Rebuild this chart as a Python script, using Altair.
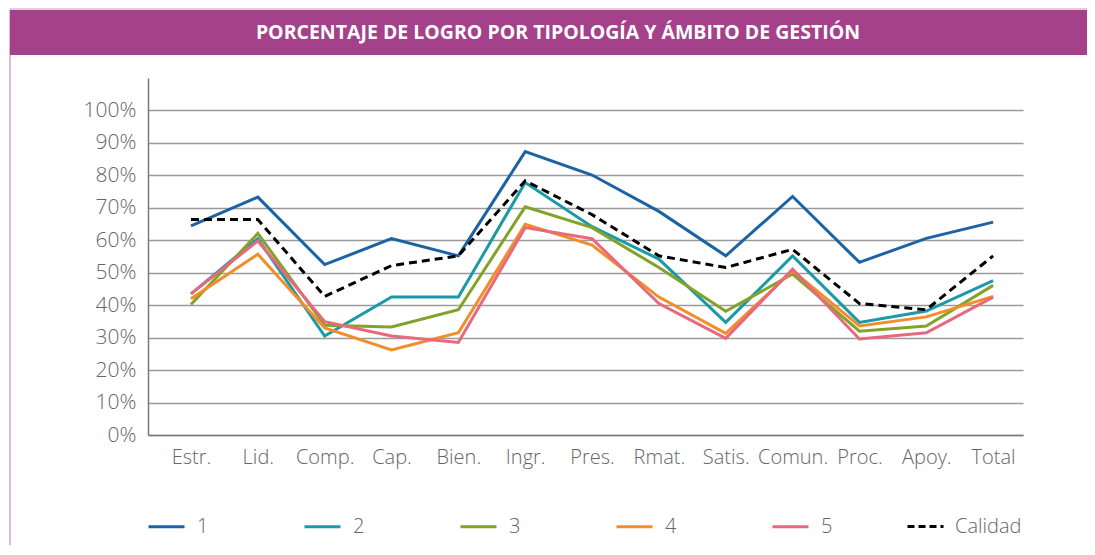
import altair as alt
import pandas as pd

categorias = ["Estr.", "Lid.", "Comp.", "Cap.", "Bien.", "Ingr.", "Pres.",
              "Rmat.", "Satis.", "Comun.", "Proc.", "Apoy.", "Total"]
serie_1 = [64.4, 73.3, 52.5, 60.5, 55.2, 87.3, 80.1, 68.9, 55.2, 73.5, 53.2, 60.6, 65.6]
serie_2 = [43.5, 60.5, 30.5, 42.5, 42.5, 77.8, 64.2, 54.2, 34.7, 55.2, 34.7, 38.2, 47.6]
serie_3 = [40.2, 62.1, 33.8, 33.3, 38.6, 70.3, 63.9, 51.6, 38.1, 49.6, 32.0, 33.6, 46.1]
serie_4 = [42.0, 55.7, 33.0, 26.2, 31.5, 64.9, 58.5, 42.5, 31.3, 50.6, 33.6, 36.4, 42.7]
serie_5 = [43.5, 59.8, 34.9, 30.5, 28.5, 63.9, 60.5, 40.5, 29.8, 51.1, 29.6, 31.5, 42.5]
calidad = [66.4, 66.4, 42.7, 52.2, 55.2, 78.3, 67.9, 55.2, 51.6, 57.2, 40.5, 38.6, 55.2]

series_names = ["1", "2", "3", "4", "5"]
series_colors = ["#1B63A5", "#1A9AA8", "#82A228", "#F18E2A", "#E8697D"]
titulo = "PORCENTAJE DE LOGRO POR TIPOLOGÍA Y ÁMBITO DE GESTIÓN"

rows = []
for name, vals in zip(series_names, [serie_1, serie_2, serie_3, serie_4, serie_5]):
    for c, v in zip(categorias, vals):
        rows.append({"cat": c, "serie": name, "valor": v / 100.0})
df = pd.DataFrame(rows)
df_cal = pd.DataFrame({"cat": categorias, "serie": "Calidad", "valor": [v / 100.0 for v in calidad]})

FONT = "Open Sans"
GREY = "#666666"

x_enc = alt.X("cat:N", sort=categorias,
              scale=alt.Scale(type="point", padding=0.545, align=0.59),
              axis=alt.Axis(title=None, labelAngle=0, ticks=False, labelFontSize=20,
                            labelFont=FONT, labelFontWeight=300, labelColor=GREY,
                            labelPadding=12, domainColor="#7a7a7a", domainWidth=1.5,
                            grid=False))
y_enc = alt.Y("valor:Q",
              scale=alt.Scale(domain=[0, 1.1], nice=False),
              axis=alt.Axis(title=None, values=[i / 10 for i in range(11)], format=".0%",
                            ticks=False, labelFontSize=21, labelFont=FONT,
                            labelFontWeight=300, labelColor=GREY, labelPadding=12,
                            domainColor="#7a7a7a", domainWidth=1.5,
                            grid=True, gridColor="#9a9a9a", gridWidth=1.5))

lines = alt.Chart(df).mark_line(strokeWidth=3, clip=False).encode(
    x=x_enc, y=y_enc,
    color=alt.Color("serie:N",
                    scale=alt.Scale(domain=series_names, range=series_colors),
                    legend=alt.Legend(title=None, orient="none", legendX=-1, legendY=429,
                                      direction="horizontal", columns=5, gridAlign="all",
                                      symbolType="stroke", symbolSize=1296,
                                      symbolStrokeWidth=3, labelFontSize=20,
                                      labelFont=FONT, labelFontWeight=300,
                                      labelColor=GREY, labelOffset=11,
                                      columnPadding=89)),
)

cal_line = alt.Chart(df_cal).mark_line(strokeWidth=3, strokeDash=[8, 5], clip=False).encode(
    x=x_enc, y=y_enc,
    color=alt.Color("serie:N",
                    scale=alt.Scale(domain=["Calidad"], range=["#000000"]),
                    legend=alt.Legend(title=None, orient="none", legendX=758, legendY=429,
                                      direction="horizontal", symbolType="stroke",
                                      symbolSize=1296, symbolStrokeWidth=3,
                                      symbolDash=[7, 4], labelFontSize=20,
                                      labelFont=FONT, labelFontWeight=300,
                                      labelColor=GREY, labelOffset=10)),
)

deco = alt.Data(values=[{"t": titulo}])
bar = alt.Chart(deco).mark_rect(color="#A4418A", clip=False).encode(
    x=alt.value(-138), x2=alt.value(1000), y=alt.value(-68), y2=alt.value(-23))
top_line = alt.Chart(deco).mark_rule(color="#E7C9E2", strokeWidth=2, clip=False).encode(
    x=alt.value(-138), x2=alt.value(1000), y=alt.value(-69))
left_line = alt.Chart(deco).mark_rule(color="#E2B9DC", strokeWidth=2, clip=False).encode(
    x=alt.value(-138), y=alt.value(-69), y2=alt.value(480))
title_text = alt.Chart(deco).mark_text(color="white", font=FONT, fontWeight="bold",
                                       fontSize=19.5, align="center", baseline="middle",
                                       clip=False).encode(
    x=alt.value(410), y=alt.value(-45), text="t:N")

chart = alt.layer(left_line, top_line, bar, title_text, lines, cal_line).resolve_scale(
    color="independent"
).properties(
    width=875, height=357,
    autosize=alt.AutoSizeParams(type="none"),
    padding={"left": 140, "top": 70, "right": 64, "bottom": 110},
).configure(background="white").configure_view(stroke=None)

chart.save("out.html", embed_options={"renderer": "svg", "actions": False})
